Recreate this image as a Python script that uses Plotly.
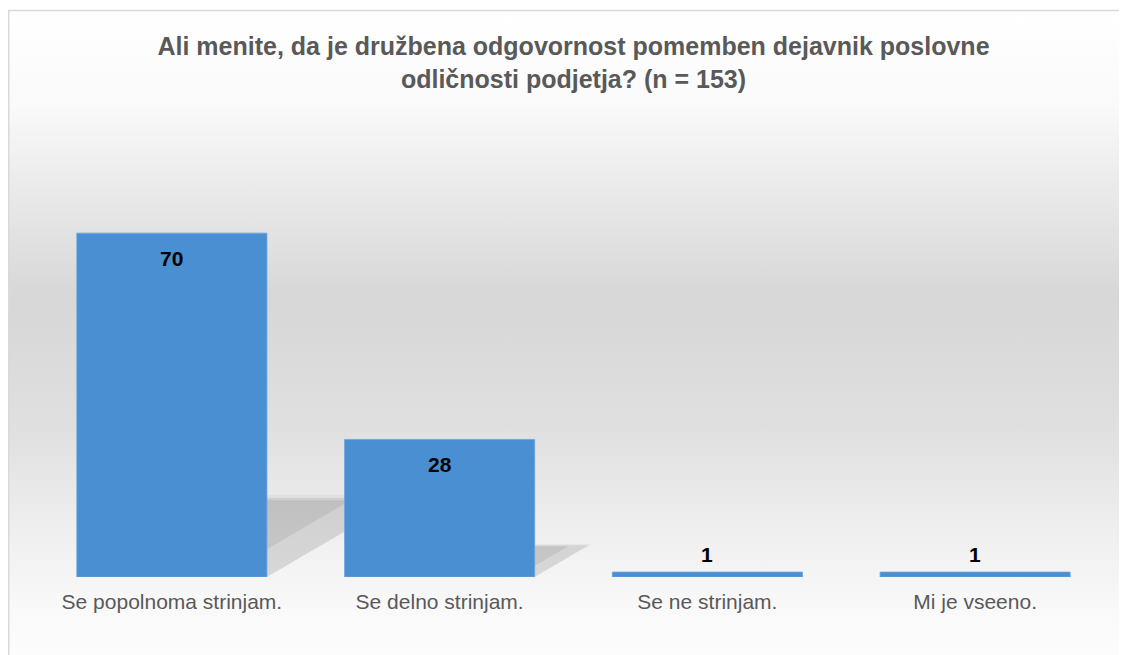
"""
Gráfico de barras: družbena odgovornost in poslovna odličnost
"""
import plotly.graph_objects as go

# podatki
categories = ["Se popolnoma strinjam.", "Se delno strinjam.", "Se ne strinjam.", "Mi je vseeno."]
values = [70, 28, 1, 1]
title_text = ("Ali menite, da je družbena odgovornost pomemben dejavnik poslovne"
              "<br>odličnosti podjetja? (n = 153)")

# postavitev (piksli znotraj slike)
W, H = 1127, 655
M_L, M_R, M_T, M_B = 30, 26, 176, 86
Y_MAX = 80
BAR_GAP = 0.29
FONT = "Liberation Sans, Arial, sans-serif"

plot_w = W - M_L - M_R
plot_h = H - M_T - M_B


def px_to_paper_x(px):
    return (px - M_L) / plot_w


def px_to_paper_y(py):
    return (H - M_B - py) / plot_h


# ozadje z gradientom (svg)
grad_svg = (
    "<svg xmlns='http://www.w3.org/2000/svg' width='100' height='100' preserveAspectRatio='none'>"
    "<defs><linearGradient id='g' x1='0' y1='0' x2='0' y2='1'>"
    "<stop offset='0' stop-color='#ffffff'/>"
    "<stop offset='0.14' stop-color='#fafafa'/>"
    "<stop offset='0.26' stop-color='#ebebeb'/>"
    "<stop offset='0.43' stop-color='#d7d7d7'/>"
    "<stop offset='0.62' stop-color='#dfdfdf'/>"
    "<stop offset='0.77' stop-color='#eeeeee'/>"
    "<stop offset='0.91' stop-color='#fafafa'/>"
    "<stop offset='1' stop-color='#fefefe'/>"
    "</linearGradient></defs>"
    "<rect width='100' height='100' fill='url(#g)'/></svg>"
)
grad_src = "data:image/svg+xml;utf8," + grad_svg.replace("#", "%23")

fig = go.Figure()

fig.add_trace(go.Bar(
    x=categories,
    y=values,
    marker=dict(color="#4a8fd2", line=dict(color="#6aa5dc", width=0.8)),
    width=1 - BAR_GAP,
    hoverinfo="x+y",
))

# sence za stolpci (mehak rob z več plastmi)
half = (1 - BAR_GAP) / 2
y_px = plot_h / Y_MAX
cat_px = plot_w / len(categories)
shapes = []
for i, v in enumerate(values):
    h = 0.23 * v
    dx = 1.7 * h * y_px / cat_px
    x0 = i + half
    # zunanji, rahlo večji sloj (zamegljenost)
    shapes.append(dict(
        type="path",
        path=f"M {x0},0 L {x0},{h * 1.04} L {x0 + dx * 1.06},{h * 1.04} Z",
        xref="x", yref="y", fillcolor="rgba(0,0,0,0.04)",
        line=dict(width=0), layer="below",
    ))
    # osnovni sloj
    shapes.append(dict(
        type="path",
        path=f"M {x0},0 L {x0},{h} L {x0 + dx},{h} Z",
        xref="x", yref="y", fillcolor="rgba(0,0,0,0.08)",
        line=dict(width=0), layer="below",
    ))
    # temnejše jedro ob zgornjem robu
    shapes.append(dict(
        type="path",
        path=f"M {x0},{h * 0.35} L {x0},{h * 0.97} L {x0 + dx * 0.62},{h * 0.97} Z",
        xref="x", yref="y", fillcolor="rgba(0,0,0,0.07)",
        line=dict(width=0), layer="below",
    ))

# okvir grafikona
shapes.append(dict(
    type="rect", xref="paper", yref="paper",
    x0=px_to_paper_x(0.75), x1=px_to_paper_x(1140),
    y0=px_to_paper_y(670), y1=px_to_paper_y(2.5),
    line=dict(color="#d9d9d9", width=1.5),
    fillcolor="rgba(0,0,0,0)",
    layer="above",
))

# oznake vrednosti
annotations = []
for cat, v in zip(categories, values):
    inside = v > 5
    annotations.append(dict(
        x=cat, y=v, xref="x", yref="y",
        text=f"<b>{v}</b>",
        showarrow=False,
        yanchor="middle",
        yshift=-25 if inside else 18,
        font=dict(family=FONT, size=21, color="#000000"),
    ))

fig.update_layout(
    width=W,
    height=H,
    margin=dict(l=M_L, r=M_R, t=M_T, b=M_B, pad=0),
    paper_bgcolor="#ffffff",
    plot_bgcolor="rgba(0,0,0,0)",
    showlegend=False,
    title=dict(
        text=f"<b>{title_text}</b>",
        x=0.5, xref="paper", xanchor="center",
        y=1 - 47 / H, yref="container", yanchor="top",
        font=dict(family=FONT, size=25, color="#595959"),
    ),
    xaxis=dict(
        showgrid=False, zeroline=False, showline=False, ticks="",
        tickfont=dict(family=FONT, size=21, color="#595959"),
        ticklabelstandoff=10,
    ),
    yaxis=dict(range=[0, Y_MAX], visible=False, fixedrange=True),
    shapes=shapes,
    annotations=annotations,
    images=[dict(
        source=grad_src,
        xref="paper", yref="paper",
        x=px_to_paper_x(0), y=px_to_paper_y(2),
        sizex=px_to_paper_x(1140) - px_to_paper_x(0),
        sizey=px_to_paper_y(2) - px_to_paper_y(670),
        sizing="stretch", layer="below",
        xanchor="left", yanchor="top",
    )],
)

fig.write_html("out.html")
